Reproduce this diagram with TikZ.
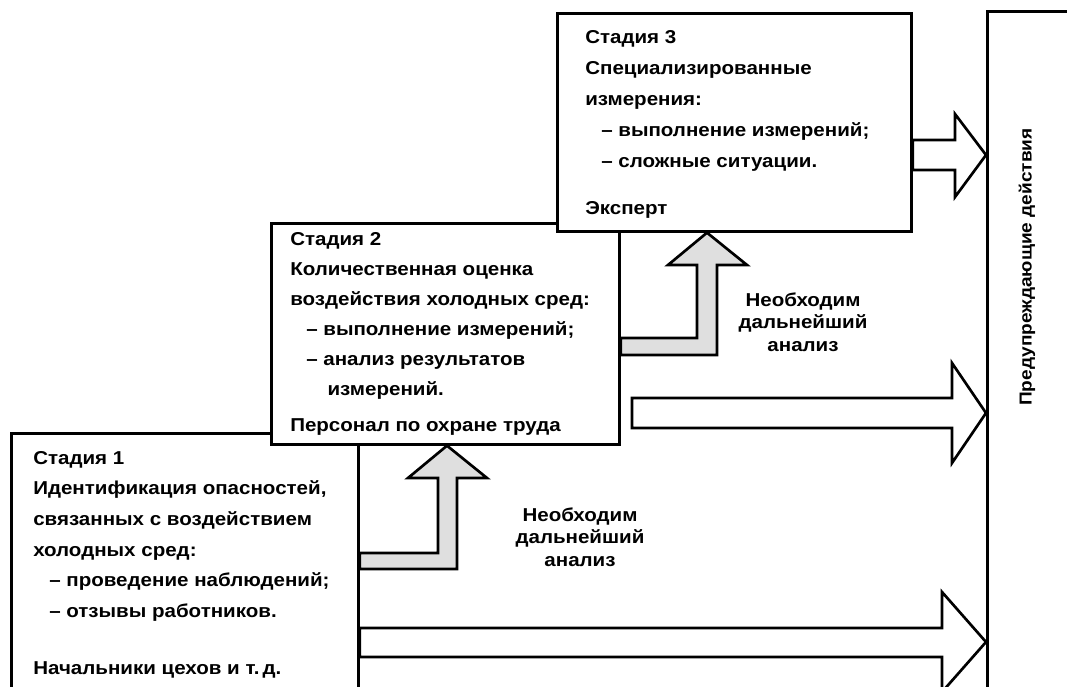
\documentclass[tikz,border=0pt]{standalone}
\usepackage{fontspec}
\setmainfont{Liberation Sans}[FakeStretch=1.1]
\usetikzlibrary{positioning,calc}

\tikzset{
  stagebox/.style={draw,line width=2pt,fill=white,anchor=north west,inner sep=0pt},
  stagetext/.style={anchor=north west,align=left,inner sep=0pt,
    font=\bfseries\fontsize{14}{22.5}\selectfont},
  hollow/.style={draw,line width=2pt,fill=white,line join=miter},
  grayarrow/.style={draw,line width=2pt,fill=gray!25,line join=miter},
  note/.style={align=center,font=\bfseries\fontsize{14}{17}\selectfont}
}

\begin{document}
\begin{tikzpicture}[x=0.75pt,y=-0.75pt]
\useasboundingbox (0,0) rectangle (1067,686);
\clip (0,0) rectangle (1067,686);

% boxes, back to front
\node[stagebox,minimum width=260.25pt,minimum height=201pt] (s1) at (10,432) {};
\node[stagebox,minimum width=261pt,minimum height=165.75pt] (s2) at (270,222) {};
\node[stagebox,minimum width=265.5pt,minimum height=163.5pt] (s3) at (556,12) {};
\node[stagebox,minimum width=75pt,minimum height=525pt] (act) at (986,10) {};

\node[stagetext,font=\bfseries\fontsize{14}{23}\selectfont] (t1) at (33,451) {Стадия 1\\
  Идентификация опасностей,\\
  связанных с воздействием\\
  холодных сред:\\
  \hspace*{12pt}– проведение наблюдений;\\
  \hspace*{12pt}– отзывы работников.\\[20pt]
  Начальники цехов и т.\,д.};
\node[stagetext] (t2) at (290,232) {Стадия 2\\
  Количественная оценка\\
  воздействия холодных сред:\\
  \hspace*{12pt}– выполнение измерений;\\
  \hspace*{12pt}– анализ результатов\\
  \hspace*{28pt}измерений.\\[5pt]
  Персонал по охране труда};
\node[stagetext,font=\bfseries\fontsize{14}{23.25}\selectfont] (t3) at (585,30) {Стадия 3\\
  Специализированные\\
  измерения:\\
  \hspace*{12pt}– выполнение измерений;\\
  \hspace*{12pt}– сложные ситуации.\\[12pt]
  Эксперт};

\node[note] (n1) at (580,537) {Необходим\\дальнейший\\анализ};
\node[note] (n2) at (803,322) {Необходим\\дальнейший\\анализ};

\node[rotate=90,font=\bfseries\fontsize{13}{16}\selectfont] (actlabel)
  at (1027,267) {Предупреждающие действия};

% gray arrows up to the next stage
\draw[grayarrow] (s1.east |- 0,553) -- (438,553) -- (438,478) -- (408,478)
  -- (447,0 |- s2.south) -- (487,478) -- (457,478) -- (457,569)
  -- (s1.east |- 0,569) -- cycle;
\draw[grayarrow] (s2.east |- 0,338) -- (697,338) -- (697,265) -- (668,265)
  -- (707,0 |- s3.south) -- (747,265) -- (717,265) -- (717,355)
  -- (s2.east |- 0,355) -- cycle;

% hollow arrows to the actions box
\draw[hollow] (s3.east |- 0,140) -- (955,140) -- (955,114)
  -- (act.west |- 0,155) -- (955,197) -- (955,170) -- (s3.east |- 0,170) -- cycle;
\draw[hollow] (632,398) -- (952,398) -- (952,363)
  -- (act.west |- 0,413) -- (952,463) -- (952,428) -- (632,428) -- cycle;
\draw[hollow] (s1.east |- 0,628) -- (942,628) -- (942,592)
  -- (act.west |- 0,642) -- (942,692) -- (942,657) -- (s1.east |- 0,657) -- cycle;
\end{tikzpicture}
\end{document}
